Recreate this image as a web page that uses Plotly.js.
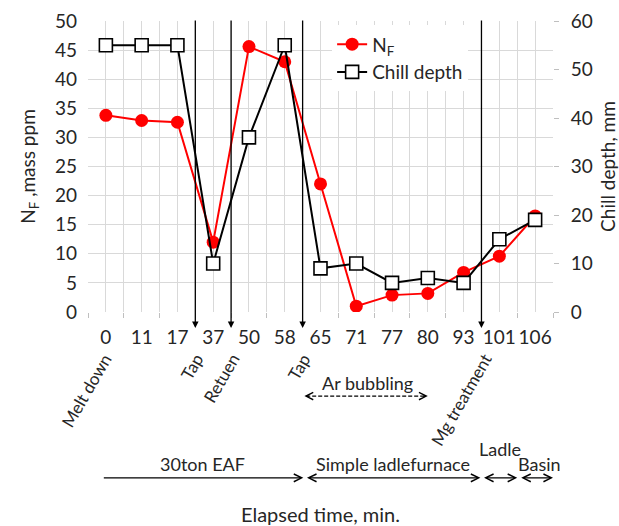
<!DOCTYPE html>
<html>
<head>
<meta charset="utf-8">
<script src="https://cdn.plot.ly/plotly-3.0.1.min.js"></script>
<style>html,body{margin:0;padding:0;background:#fff;}#chart{width:619px;height:526px;}</style>
</head>
<body>
<div id="chart"></div>
<script>
// ---- data ----
const times = ['0','11','17','37','50','58','65','71','77','80','93','101','106'];
const nF = [33.8, 32.9, 32.6, 12.0, 45.6, 43.0, 22.0, 1.0, 2.9, 3.2, 6.8, 9.6, 16.5];
const chillDepth = [55, 55, 55, 10, 36, 55, 9, 10, 6, 7, 6, 15, 19];
const eventLabels = ['Tap', 'Retuen', 'Tap', 'Mg treatment'];
const eventAfterIndex = [2, 3, 5, 10];   // event happens between this sample and the next
const phaseLabels = ['30ton EAF', 'Simple ladlefurnace', 'Ladle', 'Basin'];

const idx = times.map((_, i) => i);
const bounds = idx.map(i => i - 0.5).concat([times.length - 0.5]);
const xr = [-0.5, times.length - 0.5];
const FONT = 'Lato, "Open Sans", sans-serif';
const GRID = '#d9d9d9';
const TXT = '#262626';

const traces = [
  {x: idx, y: nF, name: 'N<sub>F</sub>', type: 'scatter', mode: 'lines+markers',
   xaxis: 'x', yaxis: 'y',
   line: {color: '#ff0000', width: 2}, marker: {symbol: 'circle', size: 13, color: '#ff0000'}},
  {x: idx, y: chillDepth, name: 'Chill depth', type: 'scatter', mode: 'lines+markers',
   xaxis: 'x2', yaxis: 'y2',
   line: {color: '#000000', width: 2},
   marker: {symbol: 'square', size: 13, color: '#ffffff', line: {color: '#000000', width: 1.6}}}
];

const ann = [];
const shapes = [];
const labelFont = {size: 18, color: TXT};
const rotFont = {size: 17, color: TXT};
// vertical event arrows
eventAfterIndex.forEach((k, j) => {
  const xe = k + 0.5;
  ann.push({x: xe, y: -0.055, xref: 'x', yref: 'paper', ax: 0, ay: -309, axref: 'pixel', ayref: 'pixel',
            text: '', showarrow: true, arrowhead: 2, arrowsize: 1, arrowwidth: 1.3,
            arrowcolor: '#000', standoff: 0, startstandoff: 0});
  const rightX = xe + (j === 3 ? 0.48 : 0.42);
  ann.push({x: rightX, y: -0.122, xref: 'x', yref: 'paper', text: eventLabels[j], showarrow: false,
            textangle: -60, xanchor: 'right', yanchor: 'top', font: rotFont});
});
// Melt down label
ann.push({x: 0.35, y: -0.122, xref: 'x', yref: 'paper', text: 'Melt down', showarrow: false,
          textangle: -60, xanchor: 'right', yanchor: 'top', font: rotFont});

// Ar bubbling dashed double arrow
const arA = eventAfterIndex[2] + 0.55, arB = eventAfterIndex[3] - 1.0;
shapes.push({type: 'line', xref: 'x', yref: 'paper', x0: arA + 0.05, x1: arB - 0.05, y0: -0.289, y1: -0.289,
             line: {color: '#000', width: 1.3, dash: '4px,2px'}});
ann.push({x: arA, y: -0.289, xref: 'x', yref: 'paper', ax: 6, ay: 0, text: '', showarrow: true,
          arrowhead: 5, arrowsize: 1.1, arrowwidth: 1.3, arrowcolor: '#000'});
ann.push({x: arB, y: -0.289, xref: 'x', yref: 'paper', ax: -6, ay: 0, text: '', showarrow: true,
          arrowhead: 5, arrowsize: 1.1, arrowwidth: 1.3, arrowcolor: '#000'});
ann.push({x: (arA + arB) / 2 + 0.05, y: -0.245, xref: 'x', yref: 'paper', text: 'Ar bubbling', showarrow: false,
          yanchor: 'middle', font: labelFont});

// process phase arrows
const phaseSpans = [[-0.1, 5.52, false], [5.58, 10.47, true], [10.53, 11.5, true], [11.57, 12.5, true]];
const phaseTextY = [-0.522, -0.522, -0.47, -0.522];
const phaseTextDx = [0, 0, 0, 0.08];
phaseSpans.forEach((s, j) => {
  ann.push({x: s[1], y: -0.57, xref: 'x', yref: 'paper', ax: s[0], ay: 0, axref: 'x', ayref: 'pixel',
            text: '', showarrow: true, arrowhead: 5, arrowsize: 1.1, arrowwidth: 1.4, arrowcolor: '#000',
            arrowside: s[2] ? 'end+start' : 'end', standoff: 0, startstandoff: 0});
  ann.push({x: (s[0] + s[1]) / 2 + phaseTextDx[j], y: phaseTextY[j], xref: 'x', yref: 'paper', text: phaseLabels[j],
            showarrow: false, yanchor: 'middle', font: labelFont});
});

const layout = {
  width: 619, height: 526,
  margin: {l: 88, r: 66, t: 21, b: 214},
  paper_bgcolor: '#fff', plot_bgcolor: '#fff',
  font: {family: FONT, size: 19, color: TXT},
  showlegend: true,
  legend: {x: 0.525, y: 0.985, xanchor: 'left', yanchor: 'top', bgcolor: '#fff',
           font: {size: 19, color: TXT}, tracegroupgap: 0},
  xaxis: {range: xr, tickvals: idx, ticktext: times, showgrid: true, gridcolor: GRID,
          zeroline: false, showline: false, ticks: '', tickfont: {size: 19, color: TXT},
          ticklabelstandoff: 12,
          title: {text: 'Elapsed time, min.', font: {size: 20, color: TXT}, standoff: 160}},
  xaxis2: {range: xr, overlaying: 'x', anchor: 'y', tickvals: bounds, showticklabels: false,
           ticks: 'outside', ticklen: 5, tickcolor: '#bfbfbf', showgrid: true, gridcolor: GRID,
           zeroline: false, showline: false},
  yaxis: {range: [0, 50], dtick: 5, showgrid: true, gridcolor: GRID, zeroline: false, showline: false,
          ticks: '', ticklabelstandoff: 10, tickfont: {size: 19, color: TXT},
          title: {text: 'N<sub>F</sub> ,mass ppm', font: {size: 19, color: TXT}, standoff: 14}},
  yaxis2: {range: [0, 60], dtick: 10, overlaying: 'y', side: 'right', anchor: 'x', showgrid: false,
           zeroline: false, showline: false, ticks: 'outside', ticklen: 5, tickcolor: '#bfbfbf',
           ticklabelstandoff: 8, tickfont: {size: 19, color: TXT},
           title: {text: 'Chill depth, mm', font: {size: 19, color: TXT}, standoff: 26}},
  annotations: ann,
  shapes: shapes
};

Plotly.newPlot('chart', traces, layout, {staticPlot: true, displayModeBar: false});
</script>
</body>
</html>
